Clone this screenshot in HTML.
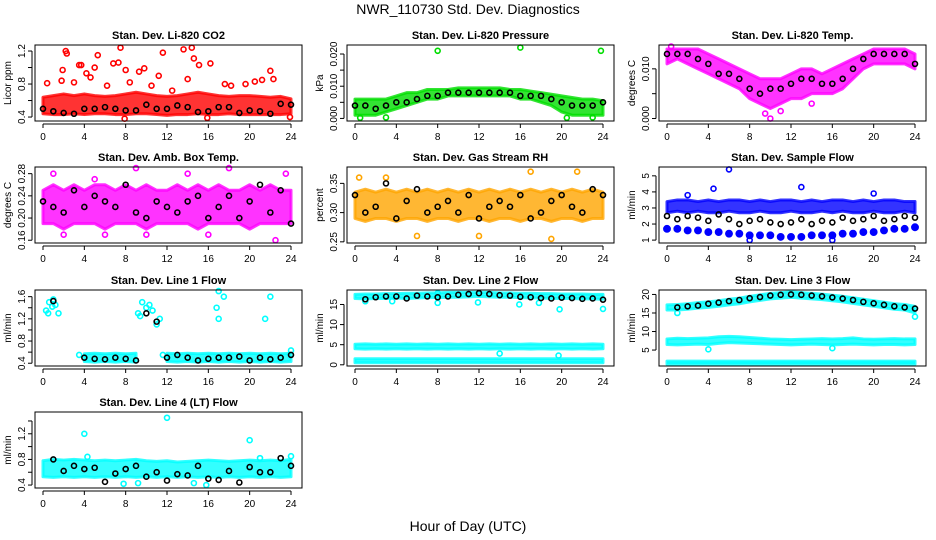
<!DOCTYPE html>
<html><head><meta charset="utf-8"><style>
html,body{margin:0;padding:0;background:#fff;}
svg{display:block;font-family:"Liberation Sans",Arial,sans-serif;}
</style></head><body>
<svg id="chart" width="936" height="540" viewBox="0 0 936 540" xmlns="http://www.w3.org/2000/svg">
<rect x="0" y="0" width="936" height="540" fill="#fff"/>
<text x="468" y="14" text-anchor="middle" font-size="14">NWR_110730 Std. Dev. Diagnostics</text>
<text x="468" y="531" text-anchor="middle" font-size="14">Hour of Day (UTC)</text>
</svg>
<script>
const hours = [0,1,2,3,4,5,6,7,8,9,10,11,12,13,14,15,16,17,18,19,20,21,22,23,24];
const xTicks = [0,4,8,12,16,20,24];
const N = null;
// Panel 1 CO2
const co2Lo = [0.44,0.43,0.43,0.44,0.43,0.44,0.44,0.43,0.43,0.44,0.44,0.43,0.42,0.43,0.43,0.44,0.43,0.43,0.44,0.43,0.43,0.43,0.43,0.43,0.44];
const co2Hi = [0.64,0.66,0.68,0.66,0.68,0.66,0.65,0.66,0.68,0.70,0.68,0.66,0.65,0.66,0.68,0.70,0.68,0.66,0.65,0.66,0.66,0.65,0.64,0.65,0.62];
const co2Black = [0.50,0.47,0.45,0.44,0.50,0.50,0.52,0.50,0.48,0.48,0.55,0.50,0.50,0.54,0.52,0.46,0.47,0.52,0.52,0.45,0.48,0.47,0.44,0.56,0.55];
const co2Out = [[0.4,0.81],[2.2,1.2],[2.3,1.17],[1.9,0.97],[3.5,1.03],[3.7,1.03],[4.2,0.93],[5.3,1.15],[5.0,1.0],[6.8,1.05],[7.5,1.24],[7.3,1.06],[8.0,0.97],[9.3,0.95],[9.8,0.99],[11.6,1.18],[13.6,1.22],[14.4,1.24],[14.6,1.11],[15.1,1.03],[16.2,1.05],[17.6,0.8],[19.6,0.8],[20.5,0.83],[22.0,0.96],[22.3,0.86],[7.9,0.38],[15.9,0.39],[23.9,0.40],[3.0,0.82],[10.5,0.78],[12.5,0.72],[21.2,0.85],[1.8,0.84],[6.2,0.78],[8.4,0.82],[14.0,0.86],[18.2,0.78],[11.2,0.9],[4.6,0.88]];
// Panel 2 pressure
const prLo = [0.001,0.001,0.001,0.002,0.003,0.004,0.005,0.006,0.006,0.007,0.007,0.007,0.007,0.007,0.007,0.007,0.006,0.006,0.005,0.004,0.002,0.001,0.001,0.001,0.001];
const prHi = [0.006,0.006,0.006,0.006,0.007,0.008,0.008,0.009,0.009,0.009,0.0095,0.0095,0.0095,0.0095,0.0095,0.009,0.009,0.0085,0.008,0.0075,0.007,0.0065,0.006,0.006,0.0055];
const prBlack = [0.004,0.004,0.003,0.004,0.005,0.005,0.006,0.007,0.007,0.008,0.008,0.008,0.008,0.008,0.008,0.008,0.007,0.007,0.007,0.006,0.005,0.004,0.004,0.004,0.005];
const prOut = [[8,0.021],[16,0.022],[23.8,0.021],[0.5,0.0002],[3,0.0003],[20.5,0.0002],[23,0.0003]];
// Panel 3 Li-820 temp
const tLo = [0.011,0.012,0.011,0.010,0.009,0.008,0.007,0.006,0.004,0.003,0.002,0.003,0.004,0.004,0.005,0.005,0.005,0.006,0.008,0.010,0.011,0.011,0.011,0.011,0.010];
const tHi = [0.014,0.014,0.014,0.014,0.013,0.012,0.011,0.010,0.009,0.008,0.008,0.008,0.009,0.010,0.010,0.009,0.010,0.011,0.012,0.013,0.014,0.014,0.014,0.014,0.013];
const tBlack = [0.013,0.013,0.013,0.012,0.011,0.009,0.009,0.008,0.006,0.005,0.006,0.006,0.007,0.008,0.008,0.007,0.007,0.008,0.010,0.012,0.013,0.013,0.013,0.013,0.011];
const tOut = [[10,0.0],[9.5,0.001],[11,0.0015],[14,0.003],[0.4,0.0145]];
// Panel 4 amb box temp
const abLo = [0.19,0.19,0.18,0.19,0.19,0.19,0.18,0.19,0.19,0.19,0.18,0.19,0.19,0.19,0.19,0.18,0.19,0.19,0.19,0.19,0.18,0.19,0.19,0.19,0.19];
const abHi = [0.25,0.26,0.25,0.26,0.25,0.26,0.26,0.25,0.26,0.25,0.26,0.25,0.25,0.26,0.25,0.26,0.25,0.26,0.25,0.25,0.26,0.25,0.26,0.25,0.25];
const abBlack = [0.23,0.22,0.21,0.25,0.22,0.24,0.23,0.22,0.26,0.21,0.20,0.23,0.22,0.21,0.23,0.24,0.20,0.22,0.24,0.20,0.23,0.26,0.21,0.25,0.19];
const abOut = [[1,0.28],[9,0.29],[18,0.29],[23.5,0.28],[2,0.17],[22.5,0.16],[10,0.17],[5,0.27],[14,0.28],[6,0.17],[16,0.17]];
// Panel 5 RH
const rhLo = [0.29,0.285,0.29,0.29,0.285,0.29,0.29,0.285,0.29,0.29,0.285,0.29,0.29,0.285,0.29,0.29,0.285,0.29,0.29,0.285,0.29,0.29,0.285,0.29,0.29];
const rhHi = [0.335,0.34,0.335,0.34,0.335,0.34,0.335,0.34,0.335,0.34,0.335,0.34,0.335,0.34,0.335,0.34,0.335,0.34,0.335,0.34,0.335,0.34,0.335,0.34,0.335];
const rhBlack = [0.33,0.30,0.31,0.35,0.29,0.32,0.34,0.30,0.31,0.32,0.30,0.33,0.29,0.31,0.32,0.31,0.33,0.29,0.30,0.32,0.33,0.31,0.30,0.34,0.33];
const rhOut = [[0.4,0.36],[17,0.37],[21.5,0.37],[19,0.255],[6,0.26],[3,0.36],[12,0.26]];
// Panel 6 sample flow
const sfLo = [2.7,2.8,2.7,2.8,2.7,2.7,2.8,2.7,2.7,2.8,2.7,2.7,2.8,2.7,2.7,2.8,2.7,2.8,2.7,2.7,2.8,2.7,2.7,2.8,2.7];
const sfHi = [3.4,3.5,3.5,3.4,3.5,3.4,3.5,3.5,3.4,3.5,3.4,3.5,3.5,3.4,3.5,3.4,3.5,3.5,3.4,3.5,3.4,3.5,3.5,3.4,3.4];
const sfLow = [1.7,1.7,1.6,1.6,1.5,1.5,1.4,1.4,1.3,1.3,1.3,1.2,1.2,1.2,1.3,1.3,1.3,1.4,1.4,1.5,1.5,1.6,1.7,1.7,1.8];
const sfBlack = [2.5,2.3,2.5,2.4,2.2,2.6,2.3,2.0,2.2,2.3,2.1,2.0,2.1,2.3,2.0,2.2,2.1,2.4,2.2,2.3,2.5,2.2,2.3,2.5,2.4];
const sfOut = [[6,5.4],[4.5,4.2],[13,4.3],[8,1.0],[16,1.0],[2,3.8],[20,3.9]];
// Panel 7 line 1
const l1Lo = [N,N,N,N,0.43,0.42,0.43,0.42,0.43,0.42,N,N,0.43,0.42,0.43,0.42,0.43,0.42,0.43,0.42,0.43,0.42,0.43,0.42,0.43];
const l1Hi = [N,N,N,N,0.57,0.58,0.57,0.58,0.57,0.58,N,N,0.58,0.57,0.58,0.57,0.58,0.57,0.58,0.57,0.58,0.57,0.58,0.57,0.58];
const l1Black = [N,1.52,N,N,0.5,0.48,0.47,0.5,0.48,0.45,1.3,1.15,0.5,0.55,0.5,0.45,0.48,0.5,0.5,0.52,0.45,0.5,0.47,0.5,0.55];
const l1Out = [[17,1.7],[17.5,1.6],[16.8,1.4],[17,1.2],[22,1.6],[21.5,1.2],[0.3,1.35],[0.6,1.5],[0.9,1.42],[1.2,1.45],[1.5,1.3],[0.5,1.3],[1.0,1.55],[9.2,1.3],[9.6,1.5],[10,1.4],[10.3,1.45],[10.6,1.35],[11,1.1],[11.3,1.2],[9.4,1.25],[3.5,0.55],[11.6,0.55],[24,0.63]];
// Panel 8 line 2
const l2TopLo = [16.5,16.4,16.5,16.5,16.6,16.5,16.6,16.7,16.7,16.8,16.8,16.9,17.0,16.9,16.8,16.8,16.7,16.6,16.6,16.5,16.5,16.5,16.4,16.4,16.3];
const l2TopHi = [17.5,17.6,17.6,17.7,17.7,17.8,17.8,17.9,17.9,18.0,18.0,18.0,18.0,18.0,17.9,17.9,17.8,17.8,17.7,17.7,17.6,17.6,17.6,17.5,17.5];
const l2MidLo = [4.0,3.9,4.0,3.9,4.0,3.9,4.0,3.9,4.0,3.9,4.0,3.9,4.0,3.9,4.0,3.9,4.0,3.9,4.0,3.9,4.0,3.9,4.0,3.9,4.0];
const l2MidHi = [5.1,5.2,5.1,5.2,5.1,5.2,5.1,5.2,5.1,5.2,5.1,5.2,5.1,5.2,5.1,5.2,5.1,5.2,5.1,5.2,5.1,5.2,5.1,5.2,5.1];
const l2BotLo = [0.5,0.5,0.5,0.5,0.5,0.5,0.5,0.5,0.5,0.5,0.5,0.5,0.5,0.5,0.5,0.5,0.5,0.5,0.5,0.5,0.5,0.5,0.5,0.5,0.5];
const l2BotHi = [1.5,1.5,1.5,1.5,1.5,1.5,1.5,1.5,1.5,1.5,1.5,1.5,1.5,1.5,1.5,1.5,1.5,1.5,1.5,1.5,1.5,1.5,1.5,1.5,1.5];
const l2Black = [N,16.3,16.8,17,17,16.5,17.2,17,16.8,17,17.4,17.6,17.8,17.6,17.3,17.2,16.9,16.8,16.6,16.5,16.7,16.6,16.4,16.5,16.2];
const l2Out = [[1,15.8],[3.6,15.8],[8,15.4],[11.9,15.5],[15.9,15.0],[17.8,15.4],[19.8,13.8],[24,13.9],[14,2.8],[19.7,2.3],[8,17.8]];
// Panel 9 line 3
const l3TopLo = [15.8,15.8,16.0,16.3,16.5,16.8,17.2,17.5,18.0,18.4,18.8,19.0,19.2,19.0,18.8,18.6,18.3,18.0,17.6,17.2,16.8,16.4,16.0,15.8,15.0];
const l3TopHi = [17.2,17.3,17.5,17.8,18.0,18.3,18.7,19.0,19.5,19.9,20.3,20.5,20.7,20.5,20.3,20.1,19.8,19.5,19.1,18.7,18.3,17.9,17.5,17.3,16.8];
const l3MidLo = [6.5,6.4,6.5,6.6,6.5,6.8,7.0,6.9,6.8,6.7,6.6,6.5,6.4,6.5,6.6,6.5,6.4,6.5,6.6,6.5,6.4,6.5,6.5,6.4,6.5];
const l3MidHi = [8.0,8.2,8.1,8.2,8.3,8.6,8.7,8.6,8.4,8.2,8.0,7.9,7.8,7.9,8.0,8.1,8.0,8.1,8.3,8.0,7.9,8.0,8.1,8.0,8.0];
const l3BotLo = [1.2,1.2,1.2,1.2,1.2,1.2,1.2,1.2,1.2,1.2,1.2,1.2,1.2,1.2,1.2,1.2,1.2,1.2,1.2,1.2,1.2,1.2,1.2,1.2,1.2];
const l3BotHi = [2.0,2.0,2.0,2.0,2.0,2.0,2.0,2.0,2.0,2.0,2.0,2.0,2.0,2.0,2.0,2.0,2.0,2.0,2.0,2.0,2.0,2.0,2.0,2.0,2.0];
const l3Black = [N,16.5,16.8,17.0,17.5,17.8,18.2,18.5,19.0,19.3,19.7,19.9,20.0,19.9,19.7,19.5,19.2,18.9,18.5,18.0,17.6,17.2,16.8,16.5,16.2];
const l3Out = [[4,5.2],[24,14.0],[1,15.0],[16,5.5]];
// Panel 10 line 4
const l4Lo = [0.53,0.52,0.53,0.52,0.53,0.52,0.53,0.52,0.53,0.52,0.53,0.52,0.53,0.52,0.53,0.52,0.53,0.52,0.53,0.52,0.53,0.52,0.53,0.52,0.53];
const l4Hi = [0.78,0.8,0.79,0.8,0.79,0.78,0.79,0.78,0.79,0.8,0.78,0.77,0.78,0.76,0.77,0.78,0.79,0.78,0.77,0.78,0.79,0.78,0.79,0.78,0.8];
const l4Black = [N,0.8,0.62,0.7,0.65,0.67,0.45,0.58,0.65,0.7,0.53,0.6,0.47,0.57,0.55,0.7,0.5,0.48,0.62,0.44,0.68,0.6,0.6,0.82,0.7];
const l4Out = [[12,1.45],[4,1.2],[20,1.1],[15.8,0.4],[14.6,0.43],[9.2,0.43],[7.8,0.42],[4.3,0.84],[24,0.85],[21,0.82]];

const NS = "http://www.w3.org/2000/svg";
const svg = document.getElementById('chart');
function el(tag, attrs, parent){const e=document.createElementNS(NS,tag);for(const k in attrs)e.setAttribute(k,attrs[k]);(parent||svg).appendChild(e);return e;}

const colLeft=[35,347,659], rowTop=[45,167,290,412], W=267, H=76;

function panel(name, title, ylab, col, row, ylim, yTicks, yLabels, color, bands, singles, outliers, black){
  const L=colLeft[col], T=rowTop[row];
  const g=el('g',{});
  
  
  const x0=L+8, x1=L+256;
  const xs=v=>x0+(v/24)*(x1-x0);
  const ys=v=>T+H-((v-ylim[0])/(ylim[1]-ylim[0]))*H;
  bands.forEach(b=>{
    let seg=[];
    const flush=()=>{ if(seg.length>1){
      const pts=seg.map(i=>xs(hours[i])+','+ys(b[1][i])).concat(seg.slice().reverse().map(i=>xs(hours[i])+','+ys(b[0][i])));
      const p=el('polygon',{points:pts.join(' '),fill:color,'fill-opacity':0.8,stroke:color,'stroke-opacity':0.8,'stroke-width':3,'stroke-linejoin':'round'},g);
      
      
    } seg=[]; };
    hours.forEach((h,i)=>{ if(b[0][i]===null){flush();} else seg.push(i); });
    flush();
  });
  singles.forEach(s=>{
    s.forEach((v,i)=>{ if(v===null)return;
      const c=el('circle',{cx:xs(hours[i]),cy:ys(v),r:3.2,fill:color,stroke:color,'stroke-width':1.5},g);
      
      
    });
  });
  outliers.forEach(o=>{
    const c=el('circle',{cx:xs(o[0]),cy:ys(o[1]),r:2.5,fill:'none',stroke:color,'stroke-width':1.6},g);
    
    
  });
  black.forEach((v,i)=>{ if(v===null)return;
    const c=el('circle',{cx:xs(hours[i]),cy:ys(v),r:2.5,fill:'none',stroke:'#000','stroke-width':1.6},g);
    
    
  });
  const f=el('rect',{x:L,y:T,width:W,height:H,fill:'none',stroke:'#000','stroke-width':1},g);
  
  
  const t=el('text',{x:L+W/2,y:T-6,'text-anchor':'middle','font-size':11,'font-weight':'bold'},g);
  t.textContent=title;
  
  
  el('line',{x1:x0,x2:x1,y1:T+H+3,y2:T+H+3,stroke:'#000'},g);
  xTicks.forEach(v=>{
    el('line',{x1:xs(v),x2:xs(v),y1:T+H+3,y2:T+H+7,stroke:'#000'},g);
    const tx=el('text',{x:xs(v),y:T+H+19,'text-anchor':'middle','font-size':10},g);
    tx.textContent=v;
    
    
  });
  const yA=ys(yTicks[0]), yB=ys(yTicks[yTicks.length-1]);
  el('line',{x1:L-3,x2:L-3,y1:yA,y2:yB,stroke:'#000'},g);
  yTicks.forEach((v,i)=>{
    el('line',{x1:L-7,x2:L-3,y1:ys(v),y2:ys(v),stroke:'#000'},g);
    if(yLabels[i]!==''){
      const ty=el('text',{x:L-10,y:ys(v),'text-anchor':'middle','font-size':10,transform:`rotate(-90 ${L-10} ${ys(v)})`},g);
      ty.textContent=yLabels[i];
      
      
    }
  });
  const yl=el('text',{x:L-24,y:T+H/2,'text-anchor':'middle','font-size':10,transform:`rotate(-90 ${L-24} ${T+H/2})`},g);
  yl.textContent=ylab;
  
  
}

panel('panel-co2','Stan. Dev. Li-820 CO2','Licor ppm',0,0,[0.352,1.273],[0.4,0.6,0.8,1.0,1.2],['0.4','','0.8','','1.2'],'#ff0000',[[co2Lo,co2Hi]],[],co2Out,co2Black);
panel('panel-pressure','Stan. Dev. Li-820 Pressure','kPa',1,0,[-0.0008,0.0228],[0,0.005,0.01,0.015,0.02],['0.000','','0.010','','0.020'],'#00dd00',[[prLo,prHi]],[],prOut,prBlack);
panel('panel-temp','Stan. Dev. Li-820 Temp.','degrees C',2,0,[-0.0005,0.0148],[0,0.005,0.01],['0.000','','0.010'],'#ff00ff',[[tLo,tHi]],[],tOut,tBlack);
panel('panel-amb-temp','Stan. Dev. Amb. Box Temp.','degrees C',0,1,[0.155,0.292],[0.16,0.20,0.24,0.28],['0.16','0.20','0.24','0.28'],'#ff00ff',[[abLo,abHi]],[],abOut,abBlack);
panel('panel-rh','Stan. Dev. Gas Stream RH','percent',1,1,[0.248,0.378],[0.25,0.30,0.35],['0.25','0.30','0.35'],'#ffa500',[[rhLo,rhHi]],[],rhOut,rhBlack);
panel('panel-sample-flow','Stan. Dev. Sample Flow','ml/min',2,1,[0.82,5.55],[1,2,3,4,5],['1','2','3','4','5'],'#0000ff',[[sfLo,sfHi]],[sfLow],sfOut,sfBlack);
panel('panel-line1','Stan. Dev. Line 1 Flow','ml/min',0,2,[0.35,1.72],[0.4,0.6,0.8,1.0,1.2,1.4,1.6],['0.4','','0.8','','1.2','','1.6'],'#00ffff',[[l1Lo,l1Hi]],[],l1Out,l1Black);
panel('panel-line2','Stan. Dev. Line 2 Flow','ml/min',1,2,[-0.3,18.6],[0,5,10,15],['0','5','10','15'],'#00ffff',[[l2TopLo,l2TopHi],[l2MidLo,l2MidHi],[l2BotLo,l2BotHi]],[],l2Out,l2Black);
panel('panel-line3','Stan. Dev. Line 3 Flow','ml/min',2,2,[0.7,21.2],[5,10,15,20],['5','10','15','20'],'#00ffff',[[l3TopLo,l3TopHi],[l3MidLo,l3MidHi],[l3BotLo,l3BotHi]],[],l3Out,l3Black);
panel('panel-line4','Stan. Dev. Line 4 (LT) Flow','ml/min',0,3,[0.354,1.54],[0.4,0.6,0.8,1.0,1.2,1.4],['0.4','','0.8','','1.2',''],'#00ffff',[[l4Lo,l4Hi]],[],l4Out,l4Black);
</script>
</body></html>
